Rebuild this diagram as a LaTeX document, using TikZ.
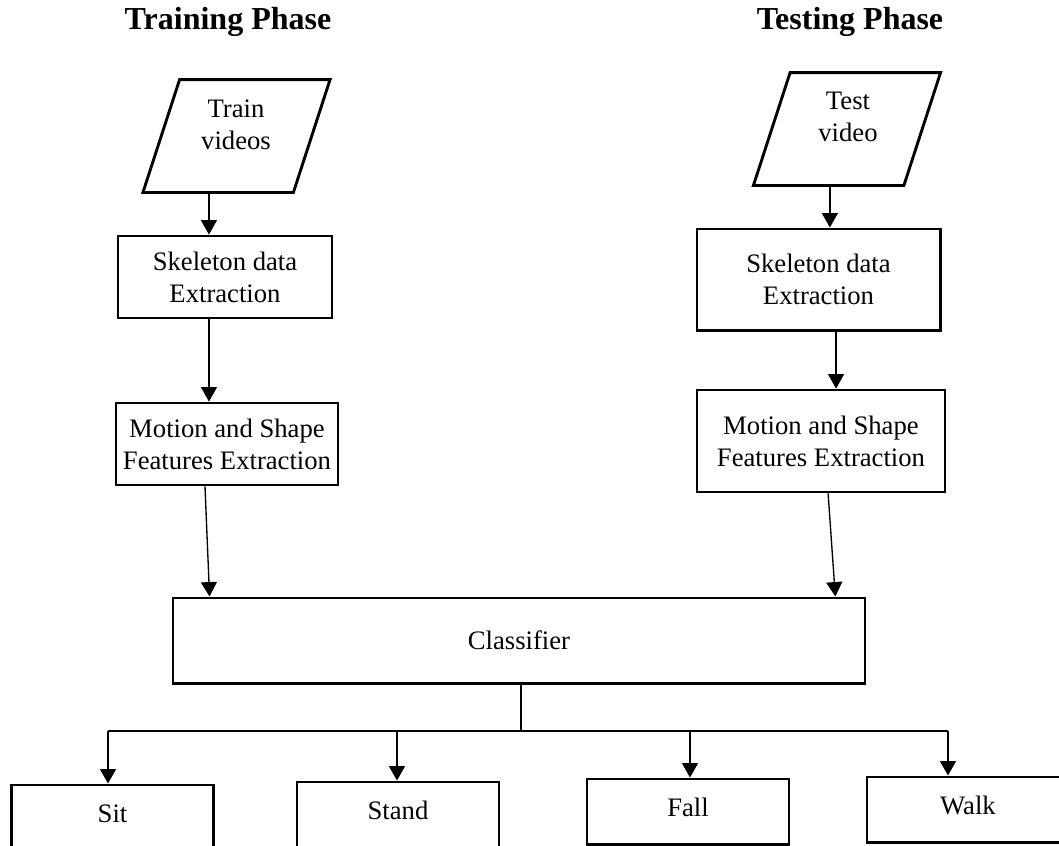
\documentclass[tikz,border=0pt,12pt]{standalone}
\usepackage{fontspec}
\setmainfont{Liberation Serif}
\usetikzlibrary{arrows.meta}
\usetikzlibrary{shapes.geometric}
\tikzset{
stage/.style={draw, line width=1.3pt, align=center, inner sep=0pt},
outcome/.style={stage, minimum width=90.9pt, minimum height=29.3pt,
    text height=8.2pt, text depth=3.6pt},
datain/.style={draw, line width=1.3pt, trapezium, trapezium left angle=72,
    trapezium right angle=108, inner xsep=25.6pt, inner ysep=25.4pt},
flow/.style={line width=0.6pt, -{Triangle[width=7.2pt,length=6.5pt]}},
wire/.style={line width=0.6pt},
phase/.style={font=\large\bfseries},
}

\begin{document}
\begin{tikzpicture}[x=0.45pt,y=-0.45pt]
    \useasboundingbox (0,0) rectangle (1059,845);

    \node[phase] (trainhead) at (228,22) {Training Phase};
    \node[phase] (testhead) at (850,22) {Testing Phase};

    \node[datain] (train) at (236.5,136) {};
    \node[align=center, inner sep=0pt] (traintxt) at (236,125) {Train\\videos};
    \node[datain] (test) at (847,129) {};
    \node[align=center, inner sep=0pt] (testtxt) at (848,117) {Test\\video};

    \node[stage, minimum width=96.3pt, minimum height=36.9pt] (skelL) at (225,277) {Skeleton data\\Extraction};
    \node[stage, minimum width=99.9pt, minimum height=36.9pt] (motL) at (227,444) {Motion and Shape\\Features Extraction};
    \node[stage, minimum width=109.4pt, minimum height=45.5pt] (skelR) at (818.5,279.5) {Skeleton data\\Extraction};
    \node[stage, minimum width=111.6pt, minimum height=45.9pt] (motR) at (821,441) {Motion and Shape\\Features Extraction};

    \node[stage, minimum width=311.4pt, minimum height=38.3pt] (clf) at (519,640.5) {Classifier};

    \node[outcome] (sit) at (112.5,817.5) {Sit};
    \node[outcome] (stand) at (398,814.5) {Stand};
    \node[outcome] (fall) at (688,811.5) {Fall};
    \node[outcome] (walk) at (968,809.5) {Walk};

    \coordinate (tl) at ([xshift=-12.4pt]train.south);
    \draw[flow] (tl) -- (tl |- skelL.north);
    \draw[flow] (tl |- skelL.south) -- (tl |- motL.north);
    \draw[flow] ([xshift=-9.9pt]motL.south) -- ([xshift=17.1pt]clf.north west);

    \coordinate (tr) at ([xshift=-7.7pt]test.south);
    \draw[flow] (tr) -- (tr |- skelR.north);
    \coordinate (mr) at ([xshift=7.9pt]skelR.south);
    \draw[flow] (mr) -- (mr |- motR.north);
    \draw[flow] ([xshift=3.2pt]motR.south) -- ([xshift=-14pt]clf.north east);

    \coordinate (split) at (521,731);
    \coordinate (tsit) at (108,731);
    \coordinate (tstand) at (397,731);
    \coordinate (tfall) at (690,731);
    \coordinate (twalk) at (948,731);
    \draw[wire] (clf.south -| split) -- (split);
    \draw[wire] (tsit) -- (twalk);
    \draw[flow] (tsit) -- (tsit |- sit.north);
    \draw[flow] (tstand) -- (tstand |- stand.north);
    \draw[flow] (tfall) -- (tfall |- fall.north);
    \draw[flow] (twalk) -- (twalk |- walk.north);
\end{tikzpicture}
\end{document}
